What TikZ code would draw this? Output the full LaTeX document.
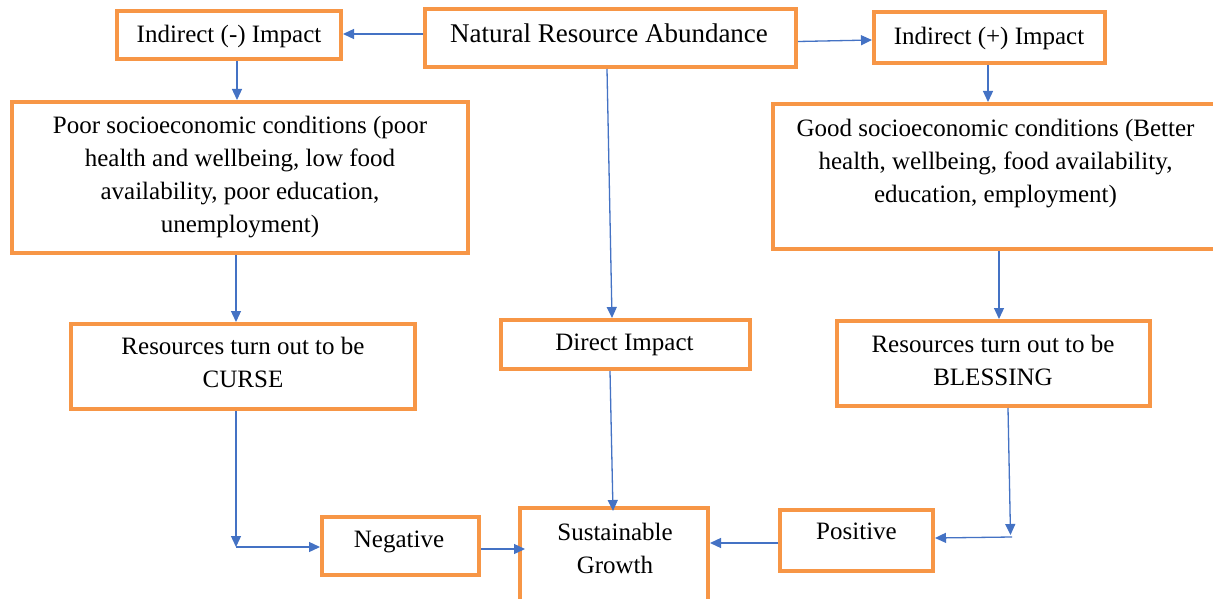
\documentclass[tikz,border=0pt]{standalone}
\usepackage{fontspec}
\setmainfont{Liberation Serif}
\usetikzlibrary{arrows.meta,fit}
\definecolor{boxorange}{RGB}{247,150,70}
\definecolor{arrblue}{RGB}{68,114,196}
\begin{document}
\begin{tikzpicture}[x=1pt,y=-1pt,
 box/.style={draw=boxorange,line width=4pt,inner sep=0pt},
 txt/.style={font=\fontsize{25}{33}\selectfont,align=center,inner sep=0pt},
 arr/.style={draw=arrblue,line width=1.3pt,-{Triangle[length=11pt,width=10pt]}}]
\useasboundingbox (0,0) rectangle (1213,599);
\clip (0,0) rectangle (1213,599);
\fill[white] (0,0) rectangle (1213,599);
% boxes
\node[box,fit={(117,11) (341,59)}] (indm) {};
\node[box,fit={(425,9) (796,67)}] (nra) {};
\node[box,fit={(874,12) (1105,63)}] (indp) {};
\node[box,fit={(12,102) (468,253)}] (poor) {};
\node[box,fit={(773,104) (1230,249)}] (good) {};
\node[box,fit={(71,324) (415,409)}] (curse) {};
\node[box,fit={(501,320) (750,369)}] (direct) {};
\node[box,fit={(837,321) (1150,406)}] (blessing) {};
\node[box,fit={(322,517) (479,575)}] (negative) {};
\node[box,fit={(520,508) (708,620)}] (sust) {};
\node[box,fit={(780,510) (933,571)}] (positive) {};
% texts
\node[txt] (indmT) at (229,36) {Indirect (-) Impact};
\node[txt,font=\fontsize{27}{33}\selectfont] (nraT) at (609,33) {Natural Resource Abundance};
\node[txt] (indpT) at (989,38) {Indirect (+) Impact};
\node[txt] (poorT) at (240,177) {Poor socioeconomic conditions (poor\\health and wellbeing, low food\\availability, poor education,\\unemployment)};
\node[txt] (goodT) at (995.5,164) {Good socioeconomic conditions (Better\\health, wellbeing, food availability,\\education, employment)};
\node[txt] (curseT) at (243,362) {Resources turn out to be\\CURSE};
\node[txt] (directT) at (624.5,345) {Direct Impact};
\node[txt] (blessingT) at (993,360) {Resources turn out to be\\BLESSING};
\node[txt] (negativeT) at (399,541.5) {Negative};
\node[txt] (sustT) at (615,548) {Sustainable\\Growth};
\node[txt] (positiveT) at (856.5,531.5) {Positive};
% connectors
\coordinate (c1) at (236,547);
\coordinate (c2) at (1010.5,535);
\coordinate (c3) at (1012,537);
\draw[arr] (nra.west |- 0,34) -- (indm.east |- 0,34);
\draw[arr] (nra.east |- 0,41.5) -- (indp.west |- 0,40);
\draw[arr] (237,0 |- indm.south) -- (237,0 |- poor.north);
\draw[arr] (988,0 |- indp.south) -- (988,0 |- good.north);
\draw[arr] (607,0 |- nra.south) -- (612,0 |- direct.north);
\draw[arr] (236,0 |- poor.south) -- (236,0 |- curse.north);
\draw[arr] (999,0 |- good.south) -- (999,0 |- blessing.north);
\draw[arr] (236,0 |- curse.south) -- (c1);
\draw[arr] (c1) -- (negative.west |- c1);
\draw[arr] (negative.east |- 0,549) -- (525,549);
\draw[arr] (610,0 |- direct.south) -- (613,511);
\draw[arr] (1008,0 |- blessing.south) -- (c2);
\draw[arr] (c3) -- (positive.east |- 0,538);
\draw[arr] (positive.west |- 0,543) -- (sust.east |- 0,543);
\end{tikzpicture}
\end{document}
